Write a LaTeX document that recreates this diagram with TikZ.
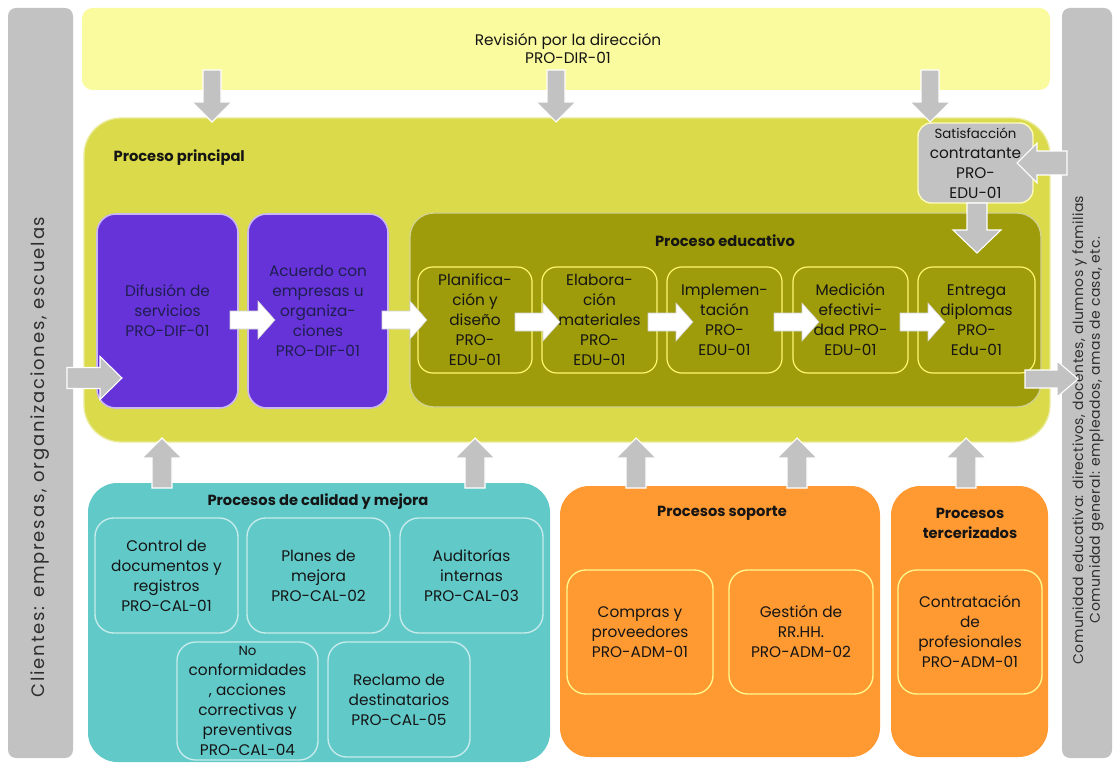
\documentclass[tikz,border=0pt]{standalone}
\usepackage{fontspec}
\setmainfont{Poppins}
\newfontfamily\sidefont{Poppins}[LetterSpace=10]
\newfontfamily\rsidefont{Poppins}[LetterSpace=3]
\definecolor{topy}{HTML}{FAFA9E}
\definecolor{maing}{HTML}{DADA4A}
\definecolor{oliv}{HTML}{9E9C0A}
\definecolor{purp}{HTML}{6633D9}
\definecolor{tealc}{HTML}{62C9C9}
\definecolor{orng}{HTML}{FF9A33}
\definecolor{gry}{HTML}{C2C2C2}
\definecolor{navy}{HTML}{1E1E50}
\definecolor{ink}{HTML}{151515}
\definecolor{sidetxt}{HTML}{2E2E2E}
\newcommand{\bx}[7]{%
  \pgfmathsetmacro\bxw{(#5-#3)*0.75}%
  \pgfmathsetmacro\bxh{(#6-#4)*0.75}%
  \node[#2, minimum width=\bxw pt, minimum height=\bxh pt] (#1) at ({(#3+#5)/2},{(#4+#6)/2}) {#7};}
% style, tail, angle, length, shaft half, head half, head length
\newcommand{\blk}[7]{\filldraw[#1, shift={(#2)}, rotate=#3] (0,-#5) -- ({#4-#7},-#5) -- ({#4-#7},-#6) -- (#4,0) -- ({#4-#7},#6) -- ({#4-#7},#5) -- (0,#5) -- cycle;}
\begin{document}
\begin{tikzpicture}[x=0.75pt,y=-0.75pt,
  font=\fontsize{11.5}{15}\selectfont,
  every node/.style={align=center, text=ink, inner sep=1pt},
  sidebar/.style={fill=gry, rounded corners=6pt},
  topbar/.style={fill=topy, rounded corners=8pt},
  mainbox/.style={fill=maing, draw=maing!55!white, line width=1pt, rounded corners=28pt},
  purpbox/.style={fill=purp, draw=purp!35!white, line width=1.2pt, rounded corners=14pt, text=navy},
  edubox/.style={fill=oliv, draw=oliv!45!white, line width=1pt, rounded corners=18pt},
  eduin/.style={fill=oliv, draw=yellow!55!white, line width=0.9pt, rounded corners=11pt},
  satbox/.style={fill=gry, draw=yellow!25!white, line width=1pt, rounded corners=10pt},
  tealbox/.style={fill=tealc, rounded corners=22pt},
  tealin/.style={fill=tealc, draw=tealc!35!white, line width=1pt, rounded corners=14pt},
  orbox/.style={fill=orng, rounded corners=22pt},
  orin/.style={fill=orng, draw=yellow!45!white, line width=1pt, rounded corners=14pt},
  title/.style={font=\fontsize{11}{15}\bfseries\selectfont},
  grarrow/.style={fill=gry, draw=white, line width=0.8pt},
  wharrow/.style={fill=white, draw=gray!35, line width=0.4pt}]
\useasboundingbox (0,0) rectangle (1118,763);
\fill[white] (0,0) rectangle (1118,763);
% side bars
\bx{lbar}{sidebar}{8}{8}{73}{758}{}
\bx{rbar}{sidebar}{1062}{8}{1112}{758}{}
\node[rotate=90, text=sidetxt, font=\sidefont\fontsize{13.5}{14}\selectfont] (ltext) at (40,457) {Clientes: empresas, organizaciones, escuelas};
\node[rotate=90, text=sidetxt, font=\rsidefont\fontsize{10.5}{12.5}\selectfont] (rtext) at (1088,430) {Comunidad educativa: directivos, docentes, alumnos y familias\\Comunidad general: empleados, amas de casa, etc.};
% top bar
\bx{top}{topbar}{82}{8}{1050}{90}{}
\node[font=\fontsize{11.5}{13.5}\selectfont] (toptxt) at (568,49) {Revisión por la dirección\\PRO-DIR-01};
% main box
\bx{main}{mainbox}{84}{118}{1050}{442}{}
\node[title, anchor=west] (mainlbl) at (112,158) {Proceso principal};
\bx{dif}{purpbox}{97}{214}{238}{408}{Difusión de\\servicios\\PRO-DIF-01}
\bx{acu}{purpbox}{248}{214}{388}{408}{Acuerdo con\\empresas u\\organiza-\\ciones\\PRO-DIF-01}
\bx{edu}{edubox}{410}{213}{1041}{407}{}
\node[title] (edulbl) at (725,241) {Proceso educativo};
\bx{pla}{eduin}{418}{267}{532}{373}{Planifica-\\ción y\\diseño\\PRO-\\EDU-01}
\bx{ela}{eduin}{542}{267}{657}{373}{Elabora-\\ción\\materiales\\PRO-\\EDU-01}
\bx{imp}{eduin}{667}{267}{782}{373}{Implemen-\\tación\\PRO-\\EDU-01}
\bx{med}{eduin}{793}{267}{908}{373}{Medición\\efectivi-\\dad PRO-\\EDU-01}
\bx{ent}{eduin}{918}{267}{1035}{373}{Entrega\\diplomas\\PRO-\\Edu-01}
\bx{sat}{satbox}{918}{123}{1033}{203}{\fontsize{10}{12.5}\selectfont Satisfacción\\contratante\\PRO-\\EDU-01}
% bottom boxes
\bx{cal}{tealbox}{88}{483}{550}{762}{}
\node[title] (callbl) at (318,502) {Procesos de calidad y mejora};
\bx{c1}{tealin}{95}{518}{238}{633}{Control de\\documentos y\\registros\\PRO-CAL-01}
\bx{c2}{tealin}{247}{518}{390}{633}{Planes de\\mejora\\PRO-CAL-02}
\bx{c3}{tealin}{400}{518}{543}{633}{Auditorías\\internas\\PRO-CAL-03}
\bx{c4}{tealin}{177}{642}{318}{760}{\fontsize{10}{14}\selectfont No\\conformidades\\, acciones\\correctivas y\\preventivas\\PRO-CAL-04}
\bx{c5}{tealin}{328}{642}{470}{757}{Reclamo de\\destinatarios\\PRO-CAL-05}
\bx{sop}{orbox}{560}{486}{880}{757}{}
\node[title] (soplbl) at (722,513) {Procesos soporte};
\bx{s1}{orin}{567}{570}{713}{694}{Compras y\\proveedores\\PRO-ADM-01}
\bx{s2}{orin}{729}{570}{873}{694}{Gestión de\\RR.HH.\\PRO-ADM-02}
\bx{ter}{orbox}{891}{486}{1048}{757}{}
\node[title] (terlbl) at (970,523) {Procesos\\tercerizados};
\bx{t1}{orin}{898}{570}{1042}{694}{Contratación\\de\\profesionales\\PRO-ADM-01}
% gray arrows
\blk{grarrow}{212,70}{-90}{52}{9}{20}{20}
\blk{grarrow}{556,70}{-90}{52}{9}{20}{20}
\blk{grarrow}{930,70}{-90}{52}{9}{20}{20}
\blk{grarrow}{977,203}{-90}{50}{10}{24}{23}
\blk{grarrow}{1067,163}{180}{50}{12}{20}{20}
\blk{grarrow}{67,378}{0}{55}{10.5}{21.5}{22}
\blk{grarrow}{1025,379}{0}{53}{9}{18}{21}
\foreach \ax in {162,475,636,797,966}{\blk{grarrow}{\ax,488}{90}{50}{10}{20}{20}}
% white arrows
\foreach \ax/\ay in {230/320,382/320,515/322,648/322,774/322,900/322}{\blk{wharrow}{\ax,\ay}{0}{45}{9}{19}{17}}
\end{tikzpicture}
\end{document}
